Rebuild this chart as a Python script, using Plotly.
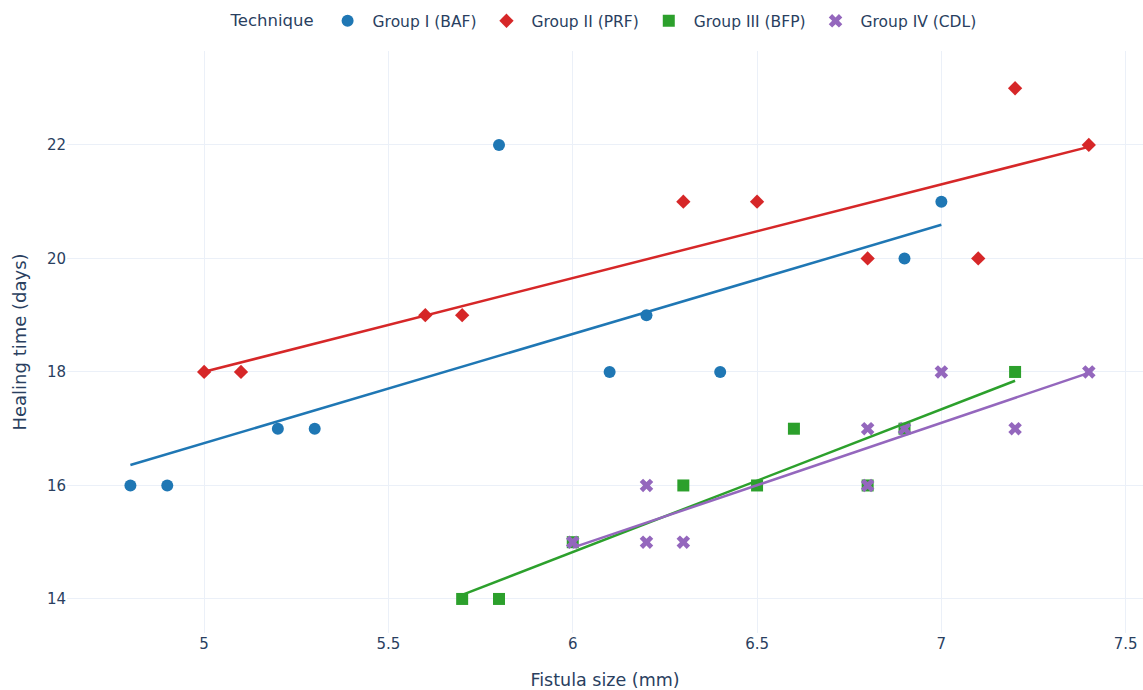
import numpy as np
import plotly.graph_objects as go

groups = ["Group I (BAF)", "Group II (PRF)", "Group III (BFP)", "Group IV (CDL)"]

baf_size = [4.8, 4.9, 5.2, 5.3, 5.8, 6.1, 6.2, 6.4, 6.9, 7.0]
baf_days = [16, 16, 17, 17, 22, 18, 19, 18, 20, 21]

prf_size = [5.0, 5.1, 5.6, 5.7, 6.3, 6.5, 6.8, 7.1, 7.2, 7.4]
prf_days = [18, 18, 19, 19, 21, 21, 20, 20, 23, 22]

bfp_size = [5.7, 5.8, 6.0, 6.3, 6.5, 6.6, 6.8, 6.9, 7.2]
bfp_days = [14, 14, 15, 16, 16, 17, 16, 17, 18]

cdl_size = [6.0, 6.2, 6.2, 6.3, 6.8, 6.8, 6.9, 7.0, 7.2, 7.4]
cdl_days = [15, 16, 15, 15, 17, 16, 17, 18, 17, 18]

colors = ["#1f77b4", "#d62728", "#2ca02c", "#9467bd"]
symbols = ["circle", "diamond", "square", "x"]
sizes = [12, 11, 12, 12]

data = [(baf_size, baf_days), (prf_size, prf_days), (bfp_size, bfp_days), (cdl_size, cdl_days)]

fig = go.Figure()
for name, (xs, ys), c, s, sz in zip(groups, data, colors, symbols, sizes):
    fig.add_trace(go.Scatter(
        x=xs, y=ys, mode="markers", name=name,
        marker=dict(color=c, symbol=s, size=sz),
        legendgroup=name,
    ))
for name, (xs, ys), c in zip(groups, data, colors):
    xa = np.array(xs, dtype=float)
    ya = np.array(ys, dtype=float)
    b, a = np.polyfit(xa, ya, 1)
    xl = np.array([xa.min(), xa.max()])
    fig.add_trace(go.Scatter(
        x=xl, y=a + b * xl, mode="lines", showlegend=False,
        line=dict(color=c, width=2.5), legendgroup=name, hoverinfo="skip",
    ))

fig.update_layout(
    template="plotly_white",
    width=1143, height=690,
    margin=dict(l=67, r=0, t=51, b=57),
    font=dict(family="DejaVu Sans, sans-serif", color="#2a3f5f", size=15),
    legend=dict(
        title=dict(text="Technique", font=dict(size=16.5)),
        orientation="h", x=0.5, xanchor="center", y=1.022, yanchor="bottom",
        font=dict(size=15.5), itemwidth=40,
    ),
    xaxis=dict(title=dict(text="Fistula size (mm)", font=dict(size=17.5), standoff=24),
               range=[4.628, 7.547], tickfont=dict(size=15), zeroline=False,
               automargin=False),
    yaxis=dict(title=dict(text="Healing time (days)", font=dict(size=18)),
               range=[13.40, 23.656], tickfont=dict(size=15), zeroline=False,
               automargin=False),
)

fig.write_html("out.html", config={"displayModeBar": False},
               post_script="document.body.style.margin='0';")
